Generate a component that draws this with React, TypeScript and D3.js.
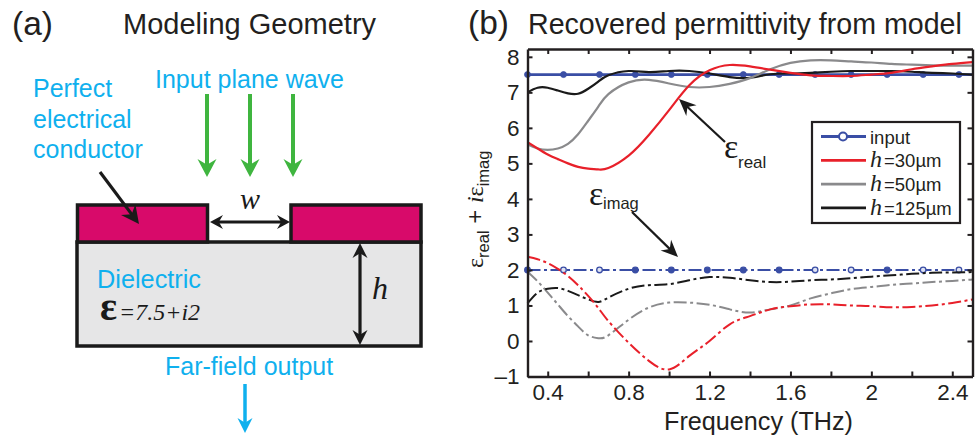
import { useRef, useEffect } from 'react';
import * as d3 from 'd3';

const WIDTH = 975;
const HEIGHT = 439;
const SANS = '"Liberation Sans", Arial, sans-serif';
const SERIF = '"Liberation Serif", "Times New Roman", serif';

const BLUE = '#3a4ea5';
const RED = '#e8202a';
const GRAY = '#8a8a8c';
const BLACK = '#1a1a1a';
const CYAN = '#0fb0ee';
const GREEN = '#3fb53f';
const DASH_DOT = '13 3.5 3 3.5';

// sampled frequency grid (THz)
const freq = [0.3, 0.35, 0.4, 0.45, 0.5, 0.55, 0.6, 0.65, 0.7, 0.8, 0.9, 1.0, 1.1, 1.2, 1.3, 1.4, 1.5, 1.6, 1.7, 1.8, 1.9, 2.0, 2.1, 2.2, 2.3, 2.4, 2.5];

const real30 = [5.6, 5.42, 5.25, 5.12, 5.0, 4.9, 4.85, 4.83, 4.87, 5.22, 5.8, 6.5, 7.2, 7.62, 7.77, 7.73, 7.64, 7.55, 7.48, 7.46, 7.46, 7.5, 7.55, 7.65, 7.73, 7.8, 7.85];
const real50 = [5.53, 5.42, 5.38, 5.42, 5.55, 5.82, 6.2, 6.6, 6.95, 7.28, 7.35, 7.25, 7.15, 7.15, 7.24, 7.4, 7.65, 7.83, 7.9, 7.9, 7.87, 7.84, 7.8, 7.78, 7.76, 7.75, 7.75];
const real125 = [7.0, 7.13, 7.13, 7.05, 6.97, 6.96, 7.1, 7.3, 7.48, 7.6, 7.57, 7.6, 7.6, 7.53, 7.43, 7.41, 7.51, 7.53, 7.55, 7.58, 7.6, 7.6, 7.6, 7.58, 7.55, 7.53, 7.5];

const imag30 = [2.37, 2.3, 2.19, 2.03, 1.83, 1.57, 1.27, 0.93, 0.56, -0.05, -0.56, -0.8, -0.42, 0, 0.47, 0.7, 0.89, 0.98, 1.03, 1.03, 1.0, 0.98, 0.95, 0.96, 1.0, 1.07, 1.17];
const imag50 = [1.95, 1.68, 1.36, 1.03, 0.7, 0.41, 0.16, 0.08, 0.16, 0.6, 0.94, 1.08, 1.08, 1.02, 0.89, 0.8, 0.89, 1.0, 1.2, 1.34, 1.46, 1.52, 1.58, 1.62, 1.66, 1.69, 1.73];
const imag125 = [1.06, 1.36, 1.47, 1.49, 1.41, 1.29, 1.17, 1.1, 1.22, 1.47, 1.57, 1.6, 1.71, 1.8, 1.78, 1.71, 1.66, 1.67, 1.71, 1.73, 1.77, 1.81, 1.85, 1.89, 1.92, 1.93, 1.94];

const inputReal = 7.5;
const inputImag = 2;
const inputMarkers = [0.3, 0.478, 0.656, 0.833, 1.011, 1.189, 1.367, 1.544, 1.722, 1.9, 2.078, 2.256, 2.433];
const imagOpen = [0.478, 0.656, 1.722, 1.9, 2.256, 2.433];

const xTicks = [0.4, 0.6, 0.8, 1.0, 1.2, 1.4, 1.6, 1.8, 2.0, 2.2, 2.4];
const xLabelled = [0.4, 0.8, 1.2, 1.6, 2.0, 2.4];
const yTicks = [-1, 0, 1, 2, 3, 4, 5, 6, 7, 8];
const legendEntries = ['input', '=30µm', '=50µm', '=125µm'];
const legendColors = [BLUE, RED, GRAY, BLACK];

function arrow(g: any, x1: number, y1: number, x2: number, y2: number, color: string, w: number, len: number, half: number, both = false) {
  const a = Math.atan2(y2 - y1, x2 - x1);
  const head = (px: number, py: number, ang: number) => {
    const c = Math.cos(ang);
    const s = Math.sin(ang);
    const pt = (u: number, v: number) => [px + u * c - v * s, py + u * s + v * c].join(',');
    g.append('polygon')
      .attr('points', [pt(0, 0), pt(-len, half), pt(-len * 0.68, 0), pt(-len, -half)].join(' '))
      .attr('fill', color);
  };
  g.append('line')
    .attr('x1', both ? x1 + Math.cos(a) * len * 0.6 : x1)
    .attr('y1', both ? y1 + Math.sin(a) * len * 0.6 : y1)
    .attr('x2', x2 - Math.cos(a) * len * 0.6)
    .attr('y2', y2 - Math.sin(a) * len * 0.6)
    .attr('stroke', color)
    .attr('stroke-width', w);
  head(x2, y2, a);
  if (both) head(x1, y1, a + Math.PI);
}

function label(g: any, x: number, y: number, str: string, size: number, fill = '#231f20', family = SANS) {
  return g.append('text')
    .attr('x', x).attr('y', y)
    .attr('font-family', family)
    .attr('font-size', size)
    .attr('fill', fill)
    .text(str);
}

export default function App() {
  const svgRef = useRef<SVGSVGElement>(null);

  useEffect(() => {
    const svg = d3.select(svgRef.current);
    svg.selectAll('*').remove();

    // ---- panel (a)
    const a = svg.append('g');
    label(a, 12, 35, '(a)', 33.5);
    label(a, 123, 34, 'Modeling Geometry', 29);
    label(a, 155, 88, 'Input plane wave', 25, CYAN);
    label(a, 33, 97, 'Perfect', 25, CYAN);
    label(a, 33, 128, 'electrical', 25, CYAN);
    label(a, 33, 158, 'conductor', 25, CYAN);

    [207, 250, 293].forEach(x => arrow(a, x, 94, x, 177, GREEN, 4, 18, 9.5));

    a.append('rect').attr('x', 77).attr('y', 242).attr('width', 344).attr('height', 104)
      .attr('fill', '#e6e6e7').attr('stroke', BLACK).attr('stroke-width', 3.5);
    a.append('rect').attr('x', 77.5).attr('y', 205).attr('width', 130).attr('height', 37)
      .attr('fill', '#d80a6a').attr('stroke', BLACK).attr('stroke-width', 3.5);
    a.append('rect').attr('x', 291).attr('y', 205).attr('width', 130).attr('height', 37)
      .attr('fill', '#d80a6a').attr('stroke', BLACK).attr('stroke-width', 3.5);

    arrow(a, 100, 172, 139, 224, BLACK, 3.2, 18, 9);
    arrow(a, 210, 222, 290, 222, BLACK, 2.8, 13, 7, true);
    arrow(a, 360, 243, 360, 345, BLACK, 3.2, 15, 7.5, true);

    label(a, 240, 209, 'w', 30, BLACK, SERIF).attr('font-style', 'italic');
    label(a, 372, 299, 'h', 32, BLACK, SERIF).attr('font-style', 'italic');
    label(a, 97, 288, 'Dielectric', 25.3, CYAN);
    label(a, 100, 320, 'ε', 40, BLACK, SERIF).attr('font-weight', 'bold');
    label(a, 119, 320, '=7.5+i2', 24, BLACK, SERIF).attr('font-style', 'italic');
    label(a, 165, 375, 'Far-field output', 25, CYAN);
    arrow(a, 245, 384, 245, 433, CYAN, 3.5, 15, 7.5);

    // ---- panel (b)
    const x = d3.scaleLinear().domain([0.3, 2.5]).range([527.5, 972.5]);
    const y = d3.scaleLinear().domain([-1, 8.22]).range([376.5, 49]);

    label(svg, 468, 34, '(b)', 33.5);
    label(svg, 528, 34, 'Recovered permittivity from model', 28.6);

    const b = svg.append('g');
    const line = d3.line<number>()
      .x((_, i) => x(freq[i]))
      .y(d => y(d))
      .curve(d3.curveNatural);

    // input lines go first, the model curves sit on top of them
    const flat = (v: number) => `M${x(0.3)},${y(v)}L${x(2.5)},${y(v)}`;
    b.append('path').attr('d', flat(inputReal)).attr('stroke', BLUE).attr('stroke-width', 2.8).attr('fill', 'none');
    b.append('path').attr('d', flat(inputImag)).attr('stroke', BLUE).attr('stroke-width', 2).attr('fill', 'none')
      .attr('stroke-dasharray', DASH_DOT);
    inputMarkers.forEach(f => {
      b.append('circle').attr('cx', x(f)).attr('cy', y(inputReal)).attr('r', 3)
        .attr('fill', BLUE).attr('stroke', BLUE).attr('stroke-width', 0.8);
      b.append('circle').attr('cx', x(f)).attr('cy', y(inputImag)).attr('r', 2.8)
        .attr('fill', imagOpen.includes(f) ? '#dfe3f3' : BLUE).attr('stroke', BLUE).attr('stroke-width', 1.3);
    });

    const solid = [[real125, BLACK], [real50, GRAY], [real30, RED]] as [number[], string][];
    solid.forEach(([vals, color]) => {
      b.append('path').attr('d', line(vals)).attr('stroke', color).attr('stroke-width', 2.2).attr('fill', 'none');
    });
    const dashed = [[imag50, GRAY], [imag125, BLACK], [imag30, RED]] as [number[], string][];
    dashed.forEach(([vals, color]) => {
      b.append('path').attr('d', line(vals)).attr('stroke', color).attr('stroke-width', 2).attr('fill', 'none')
        .attr('stroke-dasharray', DASH_DOT);
    });

    // frame + axes
    const axisStyle = (sel: any) => {
      sel.select('.domain').attr('stroke', '#231f20').attr('stroke-width', 2.4);
      sel.selectAll('.tick line').attr('stroke', '#231f20').attr('stroke-width', 2);
      sel.selectAll('text').attr('font-family', SANS).attr('font-size', 22.5).attr('fill', '#231f20');
    };
    const fmtX = (d: any) => (xLabelled.includes(+d) ? (+d === 2 ? '2' : d3.format('.1f')(d)) : '');
    const fmtY = (d: any) => (d < 0 ? `–${-d}` : `${d}`);

    svg.append('g').attr('transform', `translate(0,${y(-1)})`)
      .call(d3.axisBottom(x).tickValues(xTicks).tickSize(-5).tickSizeOuter(0).tickPadding(8).tickFormat(fmtX))
      .call(axisStyle);
    svg.append('g').attr('transform', `translate(0,${y.range()[1]})`)
      .call(d3.axisTop(x).tickValues(xTicks).tickSize(-5).tickSizeOuter(0).tickFormat(() => ''))
      .call(axisStyle);
    svg.append('g').attr('transform', `translate(${x(0.3)},0)`)
      .call(d3.axisLeft(y).tickValues(yTicks).tickSize(-5).tickSizeOuter(0).tickPadding(8).tickFormat(fmtY))
      .call(axisStyle);
    svg.append('g').attr('transform', `translate(${x(2.5)},0)`)
      .call(d3.axisRight(y).tickValues(yTicks).tickSize(-5).tickSizeOuter(0).tickFormat(() => ''))
      .call(axisStyle);

    label(svg, 664, 430, 'Frequency (THz)', 25.2);

    // y axis title
    const yt = svg.append('text')
      .attr('transform', 'translate(483,268) rotate(-90)')
      .attr('font-family', SANS).attr('font-size', 24).attr('fill', '#231f20');
    yt.append('tspan').attr('font-family', SERIF).attr('font-size', 24).text('ε');
    yt.append('tspan').attr('font-size', 16.5).attr('dy', 6).text('real');
    yt.append('tspan').attr('dy', -6).text(' + ');
    yt.append('tspan').attr('font-family', SERIF).attr('font-style', 'italic').text('i');
    yt.append('tspan').attr('font-family', SERIF).text('ε');
    yt.append('tspan').attr('font-size', 16.5).attr('dy', 6).text('imag');

    // annotations
    arrow(svg, 725, 142, 679, 99, BLACK, 2.2, 17, 7.5);
    label(svg, 724, 158, 'ε', 34, BLACK, SERIF);
    label(svg, 738, 168, 'real', 17);
    arrow(svg, 632, 212, 678, 257, BLACK, 2.2, 17, 7.5);
    label(svg, 589, 205, 'ε', 34, BLACK, SERIF);
    label(svg, 603, 209, 'imag', 16.5);

    // legend
    const lg = svg.append('g');
    lg.append('rect').attr('x', 812).attr('y', 122).attr('width', 148).attr('height', 101)
      .attr('fill', '#fff').attr('stroke', '#231f20').attr('stroke-width', 2.2);
    legendEntries.forEach((name, i) => {
      const ly = 136.5 + i * 23.8;
      lg.append('line').attr('x1', 821).attr('x2', 866).attr('y1', ly).attr('y2', ly)
        .attr('stroke', legendColors[i]).attr('stroke-width', 2.8);
      if (i === 0) {
        lg.append('circle').attr('cx', 843).attr('cy', ly).attr('r', 4)
          .attr('fill', '#fff').attr('stroke', BLUE).attr('stroke-width', 2);
        label(lg, 870, ly + 7, name, 18.5);
      } else {
        label(lg, 870, ly + 7, 'h', 24, '#231f20', SERIF).attr('font-style', 'italic');
        label(lg, 884, ly + 7, name, 18.5);
      }
    });
  }, []);

  return (
    <svg
      ref={svgRef}
      width={WIDTH}
      height={HEIGHT}
      style={{ position: 'absolute', left: 0, top: 0, background: '#fff', display: 'block' }}
    />
  );
}
